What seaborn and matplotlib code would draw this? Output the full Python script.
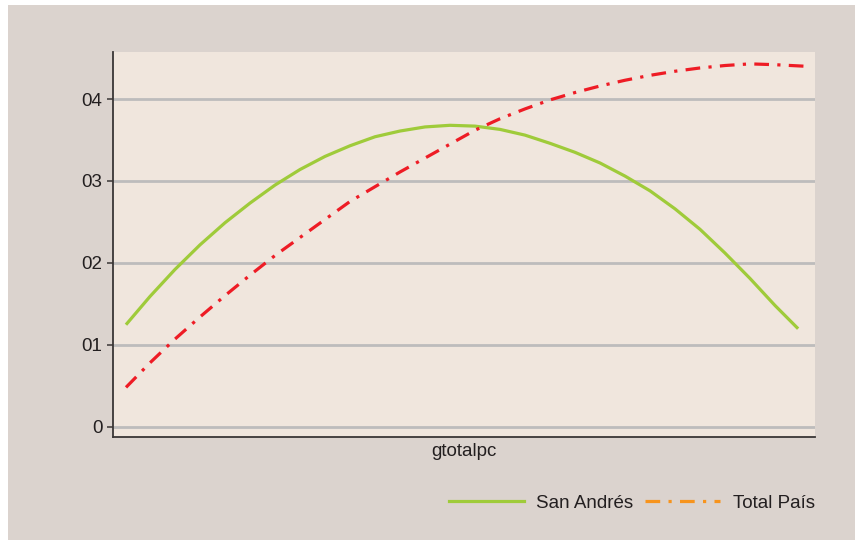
import matplotlib
matplotlib.use("Agg")
import matplotlib.pyplot as plt
from matplotlib.patches import Rectangle
from matplotlib.lines import Line2D
import seaborn as sns
import pandas as pd

# ---- data ----
x_san = [14, 37, 62, 87, 112, 137, 162, 187, 212, 237, 262, 287, 312, 337, 362,
         387, 412, 437, 462, 487, 512, 537, 562, 587, 612, 637, 662, 684]
y_san = [1.26, 1.59, 1.92, 2.22, 2.49, 2.73, 2.95, 3.14, 3.30, 3.43, 3.54, 3.61,
         3.66, 3.68, 3.67, 3.63, 3.56, 3.46, 3.35, 3.22, 3.06, 2.88, 2.66, 2.41,
         2.12, 1.81, 1.48, 1.21]

x_tot = [13, 37, 62, 87, 112, 137, 162, 187, 212, 237, 262, 287, 312, 337, 362,
         387, 412, 437, 462, 487, 512, 537, 562, 587, 612, 637, 662, 694]
y_tot = [0.48, 0.78, 1.07, 1.34, 1.60, 1.85, 2.09, 2.31, 2.53, 2.75, 2.93, 3.11,
         3.28, 3.45, 3.62, 3.76, 3.88, 3.99, 4.08, 4.16, 4.23, 4.29, 4.34, 4.38,
         4.41, 4.43, 4.42, 4.40]

series_names = ["San Andrés", "Total País"]
y_ticks = [0, 1, 2, 3, 4]
y_ticklabels = ["0", "01", "02", "03", "04"]
x_label = "gtotalpc"

df_san = pd.DataFrame({"x": x_san, "y": y_san})
df_tot = pd.DataFrame({"x": x_tot, "y": y_tot})

plt.rcParams["font.family"] = ["Liberation Sans", "DejaVu Sans"]

W, H = 863, 543
fig = plt.figure(figsize=(W / 100, H / 100), dpi=100, facecolor="white")
fig.patches.append(Rectangle((8 / W, 3 / H), (W - 16) / W, (H - 8) / H,
                             transform=fig.transFigure, facecolor="#DBD3CE",
                             edgecolor="none", zorder=-10))

ax = fig.add_axes([113 / W, 1 - 437 / H, 702 / W, 385 / H])
ax.set_facecolor("#F0E6DD")

GREEN = "#9FCB3A"
RED = "#EE1C25"
ORANGE = "#F7941D"
DASH = (4.6, 2.6, 1.0, 2.6)

sns.lineplot(data=df_san, x="x", y="y", ax=ax, color=GREEN, linewidth=2.3,
             legend=False, zorder=3)
sns.lineplot(data=df_tot, x="x", y="y", ax=ax, color=RED, linewidth=2.3,
             legend=False, zorder=4)
ax.lines[1].set_dashes(DASH)

ax.set_xlim(0, 702)
ax.set_ylim(-0.126, 4.575)

ax.set_yticks(y_ticks)
ax.set_yticklabels(y_ticklabels)
ax.set_xticks([])
ax.grid(axis="y", color="#BDBCBC", linewidth=2.0, zorder=1)
ax.set_axisbelow(True)

for s in ["top", "right"]:
    ax.spines[s].set_visible(False)
for s in ["left", "bottom"]:
    ax.spines[s].set_color("#3A3636")
    ax.spines[s].set_linewidth(1.3)

ax.tick_params(axis="y", direction="out", length=4.5, width=1.1, color="#3A3636",
               labelsize=13.5, labelcolor="#231F20", pad=3)
ax.set_xlabel(x_label, fontsize=13.5, color="#231F20", labelpad=4)
ax.set_ylabel("")

handles = [Line2D([], [], color=GREEN, linewidth=2.3),
           Line2D([], [], color=ORANGE, linewidth=2.3, dashes=DASH)]
leg = fig.legend(handles, series_names, loc="center right",
                 bbox_to_anchor=(822 / W, 1 - 503 / H), ncol=2, frameon=False,
                 fontsize=13.5, handlelength=4.0, handletextpad=0.65,
                 columnspacing=0.65, borderaxespad=0)
for t in leg.get_texts():
    t.set_color("#231F20")

fig.savefig("out.png", dpi=100, facecolor=fig.get_facecolor())
